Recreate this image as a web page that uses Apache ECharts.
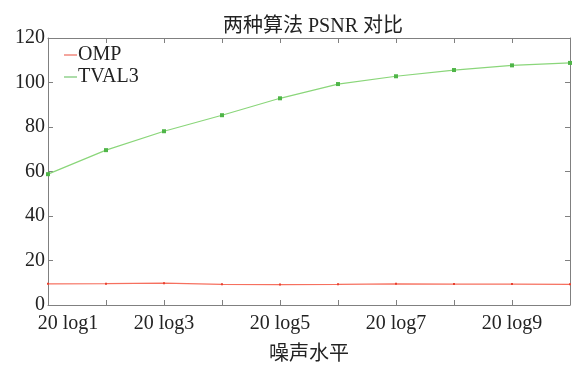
<!DOCTYPE html>
<html><head><meta charset="utf-8">
<script src="https://cdn.jsdelivr.net/npm/echarts@6/dist/echarts.min.js"></script>
<style>html,body{margin:0;padding:0;background:#fff}#c{width:573px;height:365px}</style>
</head><body><div id="c"></div>
<script>
const categories = ['20 log1','20 log2','20 log3','20 log4','20 log5','20 log6','20 log7','20 log8','20 log9','20 log10'];
const ompValues = [9.5, 9.6, 9.8, 9.3, 9.2, 9.3, 9.5, 9.4, 9.4, 9.3];
const tval3Values = [58.8, 69.6, 78.1, 85.3, 92.9, 99.3, 102.8, 105.6, 107.7, 108.8];
const yTicks = {min: 0, max: 120, interval: 20};

const serif = '"Liberation Serif", "Noto Sans CJK SC", serif';
const axisColor = '#808080';
const chart = echarts.init(document.getElementById('c'));
chart.setOption({
  animation: false,
  title: {text: '两种算法 PSNR 对比', left: 308, top: 12, textAlign: 'center',
    textStyle: {fontFamily: serif, fontSize: 20, fontWeight: 'normal', color: '#222'}},
  legend: {left: 59, top: 40, orient: 'vertical', itemGap: 2, itemWidth: 13, itemHeight: 10,
    textStyle: {fontFamily: serif, fontSize: 20, color: '#222', padding: [0,0,0,-4]},
    data: [{name: 'OMP', icon: 'path://M0,5L14,5L14,6L0,6Z'}, {name: 'TVAL3', icon: 'path://M0,5L14,5L14,6L0,6Z'}]},
  grid: {left: 48, right: 3, top: 38, bottom: 60, containLabel: false, outerBoundsMode: 'none'},
  xAxis: [{
    type: 'category', data: categories, boundaryGap: false, position: 'bottom',
    name: '噪声水平', nameLocation: 'middle', nameGap: 40,
    nameTextStyle: {fontFamily: serif, fontSize: 20, color: '#222'},
    axisLine: {onZero: false, lineStyle: {color: axisColor}},
    axisTick: {inside: true, length: 5, interval: 0, lineStyle: {color: axisColor}},
    axisLabel: {interval: 1, margin: 9, fontFamily: serif, fontSize: 20, color: '#222',
      formatter: (v, i) => i === 0 ? '{s|}' + v : v,
      rich: {s: {width: 40}}},
    splitLine: {show: false}
  }, {
    type: 'category', data: categories, boundaryGap: false, position: 'top',
    axisLine: {onZero: false, lineStyle: {color: axisColor}},
    axisTick: {inside: true, length: 5, interval: 0, lineStyle: {color: axisColor}},
    axisLabel: {show: false}, splitLine: {show: false}
  }],
  yAxis: [{
    type: 'value', min: yTicks.min, max: yTicks.max, interval: yTicks.interval, position: 'left',
    axisLine: {show: true, onZero: false, lineStyle: {color: axisColor}},
    axisTick: {show: true, inside: true, length: 5, lineStyle: {color: axisColor}},
    axisLabel: {margin: 3, fontFamily: serif, fontSize: 20, color: '#222'},
    splitLine: {show: false}
  }, {
    type: 'value', min: yTicks.min, max: yTicks.max, interval: yTicks.interval, position: 'right',
    axisLine: {show: true, onZero: false, lineStyle: {color: axisColor}},
    axisTick: {show: true, inside: true, length: 5, lineStyle: {color: axisColor}},
    axisLabel: {show: false}, splitLine: {show: false}
  }],
  series: [{
    name: 'OMP', type: 'line', data: ompValues, xAxisIndex: 0, yAxisIndex: 0,
    symbol: 'rect', symbolSize: 2, color: '#f25a4a',
    lineStyle: {width: 1.2, color: '#f6705f'}, itemStyle: {color: '#e8402f'}
  }, {
    name: 'TVAL3', type: 'line', data: tval3Values, xAxisIndex: 0, yAxisIndex: 0,
    symbol: 'rect', symbolSize: 4, color: '#7fcf6a',
    lineStyle: {width: 1.2, color: '#8ad67a'}, itemStyle: {color: '#4fb548'}
  }]
});
</script></body></html>
